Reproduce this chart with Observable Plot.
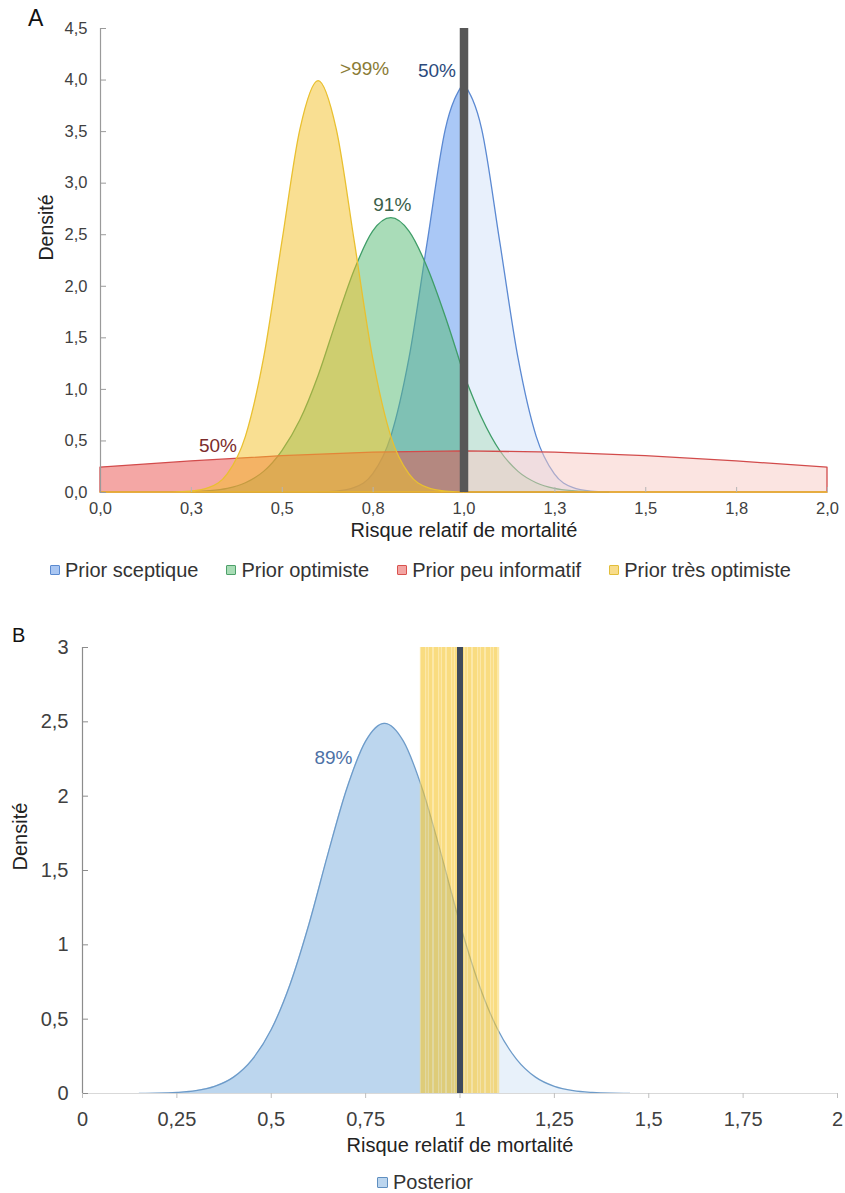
<!DOCTYPE html>
<html><head><meta charset="utf-8">
<script src="https://cdn.jsdelivr.net/npm/d3@7"></script>
<script src="https://cdn.jsdelivr.net/npm/@observablehq/plot@0.6"></script>
<style>
body{margin:0;background:#fff;font-family:"Liberation Sans",Arial,sans-serif;}
#root{position:relative;width:845px;height:1193px;overflow:hidden;background:#fff;}
.panel{position:absolute;line-height:1;color:#111;}
.legend{position:absolute;display:flex;align-items:center;font-size:20px;line-height:24px;color:#333;white-space:nowrap;}
.item{display:flex;align-items:center;margin-right:28px;}
.sw{width:8px;height:8px;border:1.5px solid;margin-right:5px;border-radius:1px;}
svg{position:absolute;left:0;}
</style></head><body><div id="root"></div>
<script>
// ---------- DATA ----------
const seriesNamesA = ["Prior sceptique", "Prior optimiste", "Prior peu informatif", "Prior très optimiste"];
const probLabelsA = ["50%", "91%", "50%", ">99%"];
const nullRR = 1;

const xTicksA = [0, 0.25, 0.5, 0.75, 1, 1.25, 1.5, 1.75, 2];
const xTickLabelsA = ["0,0", "0,3", "0,5", "0,8", "1,0", "1,3", "1,5", "1,8", "2,0"];
const yTicksA = [0, 0.5, 1, 1.5, 2, 2.5, 3, 3.5, 4, 4.5];
const yTickLabelsA = ["0,0", "0,5", "1,0", "1,5", "2,0", "2,5", "3,0", "3,5", "4,0", "4,5"];

// density readings [risque relatif, densité]
const sceptique = [[0.60,0.001],[0.65,0.009],[0.70,0.044],[0.75,0.175],[0.80,0.54],[0.85,1.30],[0.90,2.42],[0.95,3.52],[1.00,3.97],[1.05,3.52],[1.10,2.42],[1.15,1.30],[1.20,0.54],[1.25,0.175],[1.30,0.044],[1.35,0.009],[1.40,0.001]];
const optimiste = [[0.25,0.004],[0.30,0.012],[0.35,0.035],[0.40,0.09],[0.45,0.20],[0.50,0.40],[0.55,0.70],[0.60,1.13],[0.65,1.66],[0.70,2.16],[0.75,2.53],[0.80,2.66],[0.85,2.53],[0.90,2.18],[0.95,1.70],[1.00,1.15],[1.05,0.72],[1.10,0.40],[1.15,0.20],[1.20,0.09],[1.25,0.035],[1.30,0.012],[1.35,0.004],[1.40,0.001]];
const peuInformatif = [[0,0.242],[0.25,0.301],[0.5,0.352],[0.75,0.387],[1.0,0.399],[1.25,0.387],[1.5,0.352],[1.75,0.301],[2.0,0.242]];
const tresOptimiste = [[0,0],[0.20,0.001],[0.25,0.009],[0.30,0.044],[0.35,0.175],[0.40,0.54],[0.45,1.30],[0.50,2.42],[0.55,3.52],[0.60,3.99],[0.65,3.52],[0.70,2.42],[0.75,1.30],[0.80,0.54],[0.85,0.175],[0.90,0.044],[0.95,0.009],[1.00,0.001],[2.00,0]];

const xTicksB = [0, 0.25, 0.5, 0.75, 1, 1.25, 1.5, 1.75, 2];
const xTickLabelsB = ["0", "0,25", "0,5", "0,75", "1", "1,25", "1,5", "1,75", "2"];
const yTicksB = [0, 0.5, 1, 1.5, 2, 2.5, 3];
const yTickLabelsB = ["0", "0,5", "1", "1,5", "2", "2,5", "3"];
const posteriorName = "Posterior";
const posteriorLabel = "89%";
const posterior = [[0.15,0.0007],[0.20,0.002],[0.25,0.007],[0.30,0.019],[0.35,0.048],[0.40,0.11],[0.45,0.23],[0.50,0.43],[0.55,0.735],[0.60,1.14],[0.65,1.61],[0.70,2.05],[0.75,2.37],[0.80,2.49],[0.85,2.37],[0.90,2.05],[0.95,1.61],[1.00,1.14],[1.05,0.735],[1.10,0.43],[1.15,0.23],[1.20,0.11],[1.25,0.048],[1.30,0.019],[1.35,0.007],[1.40,0.002],[1.45,0.0007]];
const bandB = [0.895, 1.105];

// ---------- STYLES ----------
const seriesDataA = [sceptique, optimiste, peuInformatif, tresOptimiste];
const stylesA = [
  {left:"#5591ed", right:"#d1e1f9", stroke:"#5b89d2", swFill:"#a9c6f2", swStroke:"#5b8ad0", label:"#2c4a7c", curve:"monotone-x", dx:-27, dy:-12},
  {left:"#53b971", right:"#afddbd", stroke:"#3f9d68", swFill:"#a8dcb5", swStroke:"#4ea06a", label:"#3b5f4a", curve:"monotone-x", dx:1, dy:-13},
  {left:"#e94f4b", right:"#f7c9c3", stroke:"#d24b4b", swFill:"#f3a5a3", swStroke:"#d9534f", label:"#7b2b2b", curve:"linear", dx:-246, dy:-5},
  {left:"#f3bf25", right:"#f3bf25", stroke:"#e9c030", swFill:"#f8dc8a", swStroke:"#e2be3a", label:"#8a7b35", curve:"monotone-x", dx:46, dy:-12}
];
const font = "'Liberation Sans', Arial, sans-serif";
const toRows = pairs => pairs.map(([x, y]) => ({x, y}));
const root = document.getElementById("root");

// ---------- PANEL A ----------
const mA = {top:28, right:18, bottom:53, left:100};
const hA = 545;
const plotWA = 845 - mA.left - mA.right;
const plotHA = hA - mA.top - mA.bottom;
const labXA = new Map(xTicksA.map((t, i) => [t, xTickLabelsA[i]]));
const labYA = new Map(yTicksA.map((t, i) => [t, yTickLabelsA[i]]));
const yMaxA = yTicksA[yTicksA.length - 1];

const marksA = [];
seriesDataA.forEach((pairs, i) => {
  const s = stylesA[i];
  const rows = toRows(pairs);
  marksA.push(
    Plot.areaY(rows.filter(d => d.x <= nullRR), {x:"x", y1:0, y2:"y", curve:s.curve, fill:s.left, fillOpacity:0.5, stroke:s.stroke, strokeWidth:1.3}),
    Plot.areaY(rows.filter(d => d.x >= nullRR), {x:"x", y1:0, y2:"y", curve:s.curve, fill:s.right, fillOpacity:0.5, stroke:s.stroke, strokeWidth:1.3})
  );
});
marksA.push(
  Plot.tickX(xTicksA, {x: d => d, insetTop: plotHA - 5, stroke:"#b5b5b5"}),
  Plot.ruleX([xTicksA[0]], {y1:0, y2:yMaxA, stroke:"#9a9a9a", strokeWidth:1.2}),
  Plot.tickY(yTicksA, {y: d => d, insetRight: plotWA - 6, stroke:"#9a9a9a"}),
  Plot.ruleX([nullRR], {y1:0, y2:yMaxA, stroke:"#575757", strokeWidth:8.5})
);
seriesDataA.forEach((pairs, i) => {
  const s = stylesA[i];
  marksA.push(Plot.text(toRows(pairs), Plot.selectMaxY({x:"x", y:"y", text: () => probLabelsA[i], dx:s.dx, dy:s.dy, fill:s.label, fontSize:19})));
});
marksA.push(
  Plot.axisX(xTicksA, {tickSize:0, tickPadding:10, tickFormat: d => labXA.get(d), label:null, fontSize:16.5}),
  Plot.axisY(yTicksA, {tickSize:0, tickPadding:13, tickFormat: d => labYA.get(d), label:null, fontSize:16.5}),
  Plot.text(["Risque relatif de mortalité"], {frameAnchor:"bottom", dy:44, lineAnchor:"bottom", fontSize:20, fill:"#222"}),
  Plot.text(["Densité"], {frameAnchor:"left", rotate:-90, dx:-54, fontSize:19.5, fill:"#222"})
);

const svgA = Plot.plot({
  width:845, height:hA,
  marginTop:mA.top, marginRight:mA.right, marginBottom:mA.bottom, marginLeft:mA.left,
  x:{domain:[xTicksA[0], xTicksA[xTicksA.length-1]]},
  y:{domain:[0, yMaxA]},
  style:{fontFamily:font, fontSize:"16.5px", color:"#404040", background:"transparent", overflow:"visible"},
  marks: marksA
});
svgA.style.top = "0px";
root.appendChild(svgA);

const labA = document.createElement("div");
labA.className = "panel"; labA.textContent = "A";
Object.assign(labA.style, {left:"28px", top:"7px", fontSize:"23px"});
root.appendChild(labA);

const legA = document.createElement("div");
legA.className = "legend";
Object.assign(legA.style, {left:"50px", top:"558px"});
seriesNamesA.forEach((name, i) => {
  const it = document.createElement("div"); it.className = "item";
  const sw = document.createElement("span"); sw.className = "sw";
  sw.style.background = stylesA[i].swFill; sw.style.borderColor = stylesA[i].swStroke;
  const tx = document.createElement("span"); tx.textContent = name;
  it.appendChild(sw); it.appendChild(tx); legA.appendChild(it);
});
root.appendChild(legA);

// ---------- PANEL B ----------
const topB = 600;
const mB = {top:47, right:8, bottom:67, left:82};
const hB = 560;
const plotWB = 845 - mB.left - mB.right;
const labXB = new Map(xTicksB.map((t, i) => [t, xTickLabelsB[i]]));
const labYB = new Map(yTicksB.map((t, i) => [t, yTickLabelsB[i]]));
const yMaxB = yTicksB[yTicksB.length - 1];
const postRows = toRows(posterior);

const svgB = Plot.plot({
  width:845, height:hB,
  marginTop:mB.top, marginRight:mB.right, marginBottom:mB.bottom, marginLeft:mB.left,
  x:{domain:[xTicksB[0], xTicksB[xTicksB.length-1]]},
  y:{domain:[0, yMaxB]},
  style:{fontFamily:font, fontSize:"20px", color:"#404040", background:"transparent", overflow:"visible"},
  marks:[
    Plot.areaY(postRows.filter(d => d.x <= nullRR), {x:"x", y1:0, y2:"y", curve:"monotone-x", fill:"#bcd6ee"}),
    Plot.areaY(postRows.filter(d => d.x >= nullRR), {x:"x", y1:0, y2:"y", curve:"monotone-x", fill:"#e8f1fa"}),
    Plot.line(postRows, {x:"x", y:"y", curve:"monotone-x", stroke:"#6d9bc9", strokeWidth:1.3}),
    Plot.rect([bandB], {x1: d => d[0], x2: d => d[1], y1:0, y2:yMaxB, fill:"url(#stripesB)"}),
    Plot.ruleY([0], {stroke:"#d9d9d9", strokeWidth:1.2}),
    Plot.ruleX([xTicksB[0]], {y1:0, y2:yMaxB, stroke:"#8c8c8c", strokeWidth:1.2}),
    Plot.tickY(yTicksB, {y: d => d, insetRight: plotWB - 6, stroke:"#8c8c8c"}),
    Plot.ruleX([nullRR], {y1:0, y2:yMaxB, stroke:"#3f4a5c", strokeWidth:6}),
    Plot.text(postRows, Plot.selectMaxY({x:"x", y:"y", text: () => posteriorLabel, dx:-51, dy:35, fill:"#4d71a6", fontSize:19})),
    Plot.axisX(xTicksB, {tickSize:5, tickFormat: () => "", label:null, stroke:"#bfbfbf"}),
    Plot.axisX(xTicksB, {tickSize:0, tickPadding:18, tickFormat: d => labXB.get(d), label:null, fontSize:20}),
    Plot.axisY(yTicksB, {tickSize:0, tickPadding:14, tickFormat: d => labYB.get(d), label:null, fontSize:20}),
    Plot.text(["Risque relatif de mortalité"], {frameAnchor:"bottom", dy:58, lineAnchor:"bottom", fontSize:20, fill:"#222"}),
    Plot.text(["Densité"], {frameAnchor:"left", rotate:-90, dx:-62, fontSize:20, fill:"#222"})
  ]
});
// striped fill pattern for the band
const defs = d3.select(svgB).insert("defs", ":first-child");
const pat = defs.append("pattern").attr("id", "stripesB").attr("patternUnits", "userSpaceOnUse").attr("width", 13).attr("height", 10);
[[0,3,"#f5c52b"],[3,2,"#fad96e"],[5,4,"#f5c52b"],[9,1,"#fad96e"],[10,2,"#f6c83a"],[12,1,"#fad96e"]].forEach(([x, w, c]) => {
  pat.append("rect").attr("x", x).attr("y", 0).attr("width", w).attr("height", 10).attr("fill", c).attr("fill-opacity", 0.6);
});
svgB.style.top = topB + "px";
root.appendChild(svgB);

const labB = document.createElement("div");
labB.className = "panel"; labB.textContent = "B";
Object.assign(labB.style, {left:"12px", top:"625px", fontSize:"20px"});
root.appendChild(labB);

const legB = document.createElement("div");
legB.className = "legend";
Object.assign(legB.style, {left:"377px", top:"1170px"});
{
  const it = document.createElement("div"); it.className = "item";
  const sw = document.createElement("span"); sw.className = "sw";
  Object.assign(sw.style, {background:"#bbd5ee", borderColor:"#5f8fc0", width:"9px", height:"9px"});
  const tx = document.createElement("span"); tx.textContent = posteriorName;
  it.appendChild(sw); it.appendChild(tx); legB.appendChild(it);
}
root.appendChild(legB);
</script></body></html>
